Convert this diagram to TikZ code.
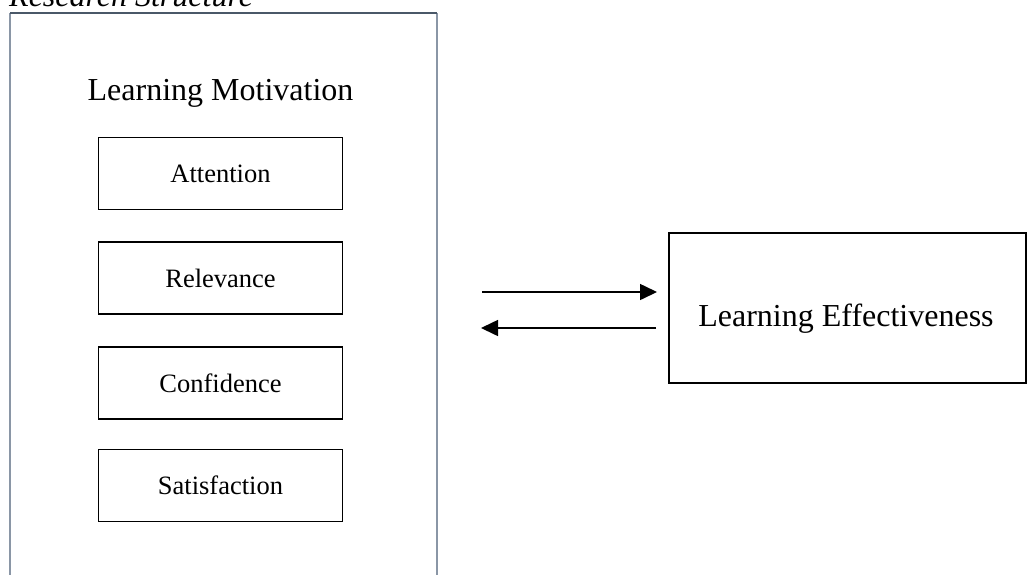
\documentclass[tikz,border=0pt]{standalone}
\usepackage{fontspec}
\setmainfont{Liberation Serif}
\usetikzlibrary{arrows.meta}
\definecolor{sideblue}{HTML}{8A96A6}
\definecolor{topblue}{HTML}{4A5868}
\tikzset{
  smallbox/.style={draw=black, line width=1.7pt, minimum width=244pt, minimum height=72pt, inner sep=0pt, font=\fontsize{26.5}{30}\selectfont},
  bigtext/.style={font=\fontsize{32}{38}\selectfont, inner sep=0pt},
  arr/.style={line width=1.6pt, -{Triangle[length=17pt,width=16pt]}}
}
\begin{document}
\begin{tikzpicture}[x=1pt,y=-1pt]
\useasboundingbox (0,0) rectangle (1031,574);
\clip (0,0) rectangle (1031,574);
\fill[white] (0,0) rectangle (1031,574);
% title
\node[bigtext, anchor=base west, font=\fontsize{32}{38}\selectfont\itshape] (title) at (9,6) {Research Structure};
% outer box
\coordinate (oTL) at (10,13);
\coordinate (oTR) at (437,13);
\coordinate (oBL) at (10,590);
\coordinate (oBR) at (437,590);
\draw[sideblue, line width=2pt] (oBL) -- (oTL);
\draw[sideblue, line width=2pt] (oTR) -- (oBR);
\draw[topblue, line width=1.2pt] (oTL) -- (oTR);
\node[bigtext, anchor=base] (lm) at (220.5,100) {Learning Motivation};
% sub-boxes
\node[smallbox] (att) at (220.5,173.5) {Attention};
\node[smallbox] (rel) at (220.5,278) {Relevance};
\node[smallbox] (con) at (220.5,383) {Confidence};
\node[smallbox] (sat) at (220.5,485.5) {Satisfaction};
% effectiveness box
\node[draw=black, line width=1.7pt, minimum width=357pt, minimum height=150pt, inner sep=0pt] (eff) at (847.5,308) {};
\node[bigtext, anchor=base] (efft) at (846,326) {Learning Effectiveness};
% arrows
\coordinate (a1s) at (482,292);
\coordinate (a1e) at (657,292);
\coordinate (a2s) at (656,328);
\coordinate (a2e) at (481,328);
\draw[arr] (a1s) -- (a1e);
\draw[arr] (a2s) -- (a2e);
\end{tikzpicture}
\end{document}
